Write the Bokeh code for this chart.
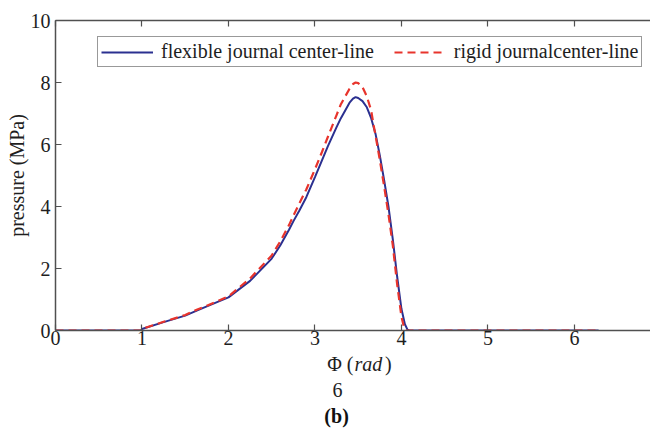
from bokeh.plotting import figure
from bokeh.layouts import column
from bokeh.models import (LinearAxis, FixedTicker, Legend, LegendItem, Label,
                          Range1d, CustomJSTickFormatter)
from bokeh.embed import file_html
from bokeh.resources import INLINE

# ---- data ----
phi_flex = [0.0, 0.5, 0.99, 1.0, 1.25, 1.5, 1.64, 1.75, 2.0, 2.25, 2.5, 2.6, 2.7, 2.75,
            2.82, 2.9, 3.0, 3.08, 3.15, 3.25, 3.3, 3.35, 3.4, 3.44, 3.47, 3.5, 3.55,
            3.6, 3.65, 3.7, 3.75, 3.8, 3.85, 3.9, 3.95, 4.0, 4.04, 4.07, 4.09,
            4.5, 5.0, 5.5, 6.0, 6.28]
p_flex = [0.0, 0.0, 0.0, 0.05, 0.27, 0.48, 0.65, 0.78, 1.07, 1.6, 2.32, 2.75, 3.25, 3.52,
          3.87, 4.3, 4.95, 5.48, 5.95, 6.56, 6.85, 7.1, 7.35, 7.48, 7.53, 7.5, 7.4,
          7.2, 6.85, 6.35, 5.65, 4.85, 4.0, 2.95, 1.75, 0.7, 0.2, 0.03, 0.0,
          0.0, 0.0, 0.0, 0.0, 0.0]
phi_rigid = [0.0, 0.5, 0.99, 1.0, 1.25, 1.5, 1.64, 1.75, 2.0, 2.25, 2.5, 2.6, 2.7, 2.75,
             2.82, 2.9, 3.0, 3.08, 3.15, 3.25, 3.3, 3.35, 3.4, 3.44, 3.47, 3.5, 3.55,
             3.6, 3.65, 3.68, 3.7, 3.75, 3.8, 3.85, 3.9, 3.95, 4.0, 4.03, 4.05,
             4.5, 5.0, 5.5, 6.0, 6.28]
p_rigid = [0.0, 0.0, 0.0, 0.05, 0.28, 0.5, 0.68, 0.8, 1.1, 1.68, 2.42, 2.88, 3.4, 3.7,
           4.1, 4.55, 5.2, 5.75, 6.25, 6.95, 7.3, 7.55, 7.8, 7.95, 8.0, 7.98, 7.85,
           7.55, 7.1, 6.6, 6.3, 5.5, 4.65, 3.75, 2.75, 1.5, 0.45, 0.1, 0.0,
           0.0, 0.0, 0.0, 0.0, 0.0]

x_ticks = [0, 1, 2, 3, 4, 5, 6]
y_ticks = [0, 2, 4, 6, 8, 10]
legend_labels = ["flexible journal center-line", "rigid journalcenter-line"]
x_title = ["Φ (", "rad", ")"]
caption_lines = ["6", "(b)"]

FONT = "Liberation Serif"
AXC = "#505050"
TXT = "#1e1e1e"
BLUE = "#2b3090"
RED = "#e8342c"

MAIN_H = 350

p = figure(width=650, height=MAIN_H, x_range=(0, 6.88), y_range=(0, 10),
           output_backend="svg", toolbar_location=None,
           x_axis_location=None, y_axis_location=None,
           min_border_left=55, min_border_right=0, min_border_top=20,
           min_border_bottom=20, outline_line_color=None)
p.grid.visible = False
p.background_fill_color = "white"
p.border_fill_color = "white"


def style_axis(ax, ticks):
    ax.ticker = FixedTicker(ticks=ticks)
    ax.axis_line_color = AXC
    ax.axis_line_width = 1.5
    ax.major_tick_line_color = AXC
    ax.major_tick_line_width = 1.2
    ax.major_tick_in = 6
    ax.major_tick_out = 0
    ax.minor_tick_line_color = None
    ax.major_label_text_font = FONT
    ax.major_label_text_font_size = "20px"
    ax.major_label_text_color = TXT


xb = LinearAxis()
style_axis(xb, x_ticks)
xb.major_label_standoff = 0
p.add_layout(xb, "below")

xt = LinearAxis()
style_axis(xt, x_ticks)
xt.formatter = CustomJSTickFormatter(code="return ''")
xt.major_label_standoff = 0
p.add_layout(xt, "above")

yl = LinearAxis(axis_label="pressure (MPa)")
style_axis(yl, y_ticks)
yl.major_label_standoff = 5
yl.axis_label_text_font = FONT
yl.axis_label_text_font_size = "20px"
yl.axis_label_text_font_style = "normal"
yl.axis_label_text_color = TXT
yl.axis_label_standoff = 0
p.add_layout(yl, "left")

r1 = p.line(phi_flex, p_flex, line_color=BLUE, line_width=2)
r2 = p.line(phi_rigid, p_rigid, line_color=RED, line_width=2.2, line_dash="8 5")

legend = Legend(items=[LegendItem(label=legend_labels[0], renderers=[r1]),
                       LegendItem(label=legend_labels[1], renderers=[r2])],
                orientation="horizontal", location=(42, 263),
                label_text_font=FONT, label_text_font_size="20px",
                label_text_color=TXT, glyph_width=52, glyph_height=14,
                label_standoff=8, spacing=20, padding=3, margin=0,
                border_line_color="#333333", border_line_width=1.2,
                background_fill_alpha=1)
p.add_layout(legend, "center")

# ---- caption strip under the chart (shares the x scale of the chart) ----
q = figure(width=650, height=432 - MAIN_H, x_range=p.x_range,
           y_range=Range1d(432, MAIN_H), output_backend="svg", toolbar_location=None,
           x_axis_location=None, y_axis_location=None, min_border=0,
           min_border_left=55, outline_line_color=None)
q.grid.visible = False

ty = 363
q.add_layout(Label(x=3.445, y=ty, text=x_title[0], text_align="right", text_baseline="middle",
                   text_font=FONT, text_font_size="20px", text_color=TXT))
q.add_layout(Label(x=3.457, y=ty, text=x_title[1], text_align="left", text_baseline="middle",
                   text_font=FONT, text_font_size="20px", text_font_style="italic",
                   text_color=TXT))
q.add_layout(Label(x=3.81, y=ty, text=x_title[2], text_align="left", text_baseline="middle",
                   text_font=FONT, text_font_size="20px", text_color=TXT))
q.add_layout(Label(x=3.26, y=389, text=caption_lines[0], text_align="center",
                   text_baseline="middle", text_font=FONT, text_font_size="20px",
                   text_color=TXT))
q.add_layout(Label(x=3.25, y=415, text=caption_lines[1], text_align="center",
                   text_baseline="middle", text_font=FONT, text_font_size="20px",
                   text_font_style="bold", text_color="#111111"))

layout = column(p, q, spacing=0)
open("out.html", "w").write(file_html(layout, INLINE))
